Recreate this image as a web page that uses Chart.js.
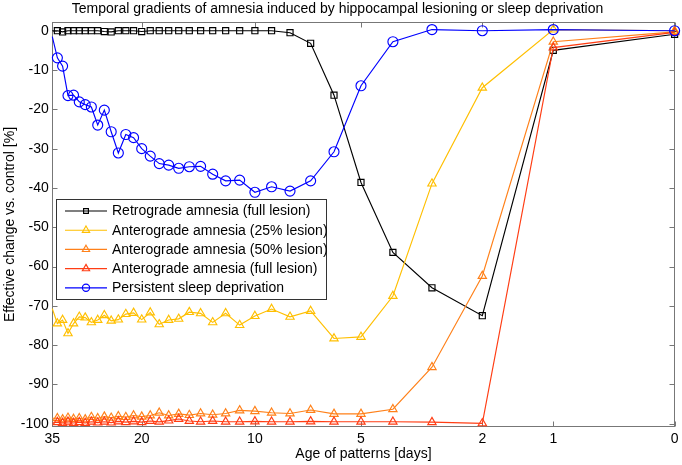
<!DOCTYPE html>
<html>
<head>
<meta charset="utf-8">
<script src="https://cdn.jsdelivr.net/npm/chart.js@4.4.1/dist/chart.umd.min.js"></script>
<style>
  html, body { margin: 0; padding: 0; background: #fff; }
  #wrap { width: 682px; height: 465px; position: relative; }
</style>
</head>
<body>
<div id="wrap"><canvas id="myChart"></canvas></div>
<script>
// age of the patterns in days, oldest first (the left edge point has no marker)
const days = [34, 33, 32, 31, 30, 29, 28, 27, 26, 25, 24, 23, 22, 21, 20, 19, 18,
              17, 16, 15, 14, 13, 12, 11, 10, 9, 8, 7, 6, 5, 4, 3, 2, 1, 0];

const retrograde = [0, 0, -0.3, 0, 0, 0, 0, 0, 0, -0.2, -0.3, 0, 0, 0, -0.2, 0, 0,
                    0, 0, 0, 0, 0, 0, 0, 0, 0, -0.5, -3.2, -16.4, -38.6, -56.4, -65.4, -72.5, -5.0, -0.9];
const antero25 = [-70.7, -74.5, -73.6, -77.0, -74.5, -72.8, -73.0, -74.2, -73.6, -72.4, -73.8, -73.5, -72.1, -71.8, -73.5, -71.7, -74.7,
                  -73.6, -73.3, -71.6, -71.9, -74.2, -71.9, -74.9, -72.6, -70.8, -72.8, -71.3, -78.3, -77.9, -67.5, -38.9, -14.5, 0.3, 0];
const antero50 = [-98.6, -98.6, -98.9, -98.5, -98.8, -98.6, -98.9, -98.3, -98.6, -98.2, -98.5, -98.1, -98.3, -97.9, -98.2, -97.9, -97.2,
                  -97.9, -97.5, -97.8, -97.4, -97.7, -97.4, -96.6, -96.8, -97.2, -97.4, -96.5, -97.5, -97.5, -96.3, -85.6, -62.4, -2.8, -0.3];
const anteroFull = [-99.8, -99.6, -99.8, -99.5, -99.8, -99.6, -99.8, -99.5, -99.7, -99.5, -99.7, -99.4, -99.6, -99.4, -99.6, -99.3, -99.5,
                    -99.2, -98.8, -99.3, -99.5, -99.3, -99.5, -99.5, -99.4, -99.5, -99.5, -99.4, -99.5, -99.5, -99.5, -99.6, -99.9, -4.3, -0.4];
const sleepDep = [-1.5, -6.9, -9.0, -16.5, -16.4, -18.1, -18.8, -19.4, -24.0, -20.2, -25.7, -31.1, -26.4, -27.2, -30.0, -31.9, -33.8,
                  -34.2, -35.0, -34.6, -34.5, -36.5, -38.2, -38.0, -41.1, -39.7, -40.8, -38.2, -30.8, -14.0, -2.8, 0.3, 0, 0.3, 0];

const seriesNames = ['Retrograde amnesia (full lesion)', 'Anterograde amnesia (25% lesion)',
                     'Anterograde amnesia (50% lesion)', 'Anterograde amnesia (full lesion)',
                     'Persistent sleep deprivation'];

// x axis is log(age + 1); the left edge carries the label 35
const xTickDays = [34, 20, 10, 5, 2, 1, 0];
const xTickLabels = ['35', '20', '10', '5', '2', '1', '0'];
const yTicks = [0, -10, -20, -30, -40, -50, -60, -70, -80, -90, -100];

const FONT = '"Liberation Sans", Arial, Helvetica, sans-serif';
Chart.defaults.font.family = FONT;
Chart.defaults.color = '#000';

const lx = d => Math.log(d + 1);
const toPoints = vals => days.map((d, i) => ({ x: lx(d), y: vals[i] }));

function series(label, vals, color, style, radius, order) {
    return {
        label: label,
        data: toPoints(vals),
        borderColor: color,
        backgroundColor: color,
        borderWidth: 1.15,
        pointStyle: style,
        pointRadius: c => (c.dataIndex === 0 ? 0 : radius),
        pointBorderWidth: 1.15,
        pointBorderColor: color,
        pointBackgroundColor: 'rgba(0,0,0,0)',
        tension: 0,
        clip: false,
        order: order
    };
}

const frame = {
    id: 'frame',
    beforeDatasetsDraw(chart) {
        const { ctx, chartArea: a, scales } = chart;
        const L = Math.round(a.left) + 0.5, R = Math.round(a.right) - 0.5;
        const T = Math.round(a.top) + 0.5, B = Math.round(a.bottom) - 0.5;
        ctx.save();
        ctx.strokeStyle = '#777';
        ctx.lineWidth = 1;
        ctx.strokeRect(L, T, R - L, B - T);
        ctx.beginPath();
        scales.x.ticks.forEach(t => {
            const px = Math.round(scales.x.getPixelForValue(t.value)) + 0.5;
            ctx.moveTo(px, B); ctx.lineTo(px, B - 5);
            ctx.moveTo(px, T); ctx.lineTo(px, T + 5);
        });
        scales.y.ticks.forEach(t => {
            const py = Math.round(scales.y.getPixelForValue(t.value)) + 0.5;
            ctx.moveTo(L, py); ctx.lineTo(L + 5, py);
            ctx.moveTo(R, py); ctx.lineTo(R - 5, py);
        });
        ctx.stroke();
        ctx.restore();
    }
};

const boxLegend = {
    id: 'boxLegend',
    afterDatasetsDraw(chart) {
        const ctx = chart.ctx;
        const left = 56.5, top = 199.5, right = 326.5, bottom = 299.5;
        ctx.save();
        ctx.fillStyle = '#fff';
        ctx.fillRect(left, top, right - left, bottom - top);
        ctx.strokeStyle = '#333';
        ctx.lineWidth = 1;
        ctx.strokeRect(left, top, right - left, bottom - top);
        ctx.font = '14px ' + FONT;
        ctx.textBaseline = 'middle';
        ctx.textAlign = 'left';
        chart.data.datasets.forEach((ds, i) => {
            const y = 211 + i * 19.2;
            ctx.strokeStyle = ds.borderColor;
            ctx.lineWidth = 1.15;
            ctx.beginPath();
            ctx.moveTo(65, y);
            ctx.lineTo(107, y);
            ctx.stroke();
            ctx.fillStyle = 'rgba(0,0,0,0)';
            const r = ds.pointStyle === 'rect' ? 3.4 : (ds.pointStyle === 'circle' ? 3.6 : 4.2);
            Chart.helpers.drawPoint(ctx, { pointStyle: ds.pointStyle, radius: r, borderWidth: 1.15 }, 86, y);
            ctx.fillStyle = '#000';
            ctx.fillText(ds.label, 112, y + 0.5);
        });
        ctx.restore();
    }
};

const canvas = document.getElementById('myChart');
new Chart(canvas.getContext('2d'), {
    type: 'line',
    data: {
        datasets: [
            series(seriesNames[0], retrograde, '#000000', 'rect', 4.3, 4),
            series(seriesNames[1], antero25, '#ffbf00', 'triangle', 4.8, 3),
            series(seriesNames[2], antero50, '#ff8019', 'triangle', 4.8, 2),
            series(seriesNames[3], anteroFull, '#ff3d14', 'triangle', 4.8, 1),
            series(seriesNames[4], sleepDep, '#0000ff', 'circle', 5, 0)
        ]
    },
    options: {
        responsive: true,
        maintainAspectRatio: false,
        animation: false,
        events: [],
        layout: { padding: { left: 0, right: 7, top: 0, bottom: 2 } },
        plugins: {
            legend: { display: false },
            tooltip: { enabled: false },
            title: {
                display: true,
                text: 'Temporal gradients of amnesia induced by hippocampal lesioning or sleep deprivation',
                font: { size: 14, weight: 'normal', lineHeight: 1 },
                color: '#000',
                padding: { top: 2.6, bottom: 5.1 }
            }
        },
        scales: {
            x: {
                type: 'linear',
                reverse: true,
                min: 0,
                max: lx(34),
                grid: { display: false, drawTicks: false },
                border: { display: false },
                afterFit: s => { s.height = 35.7; },
                afterBuildTicks: s => { s.ticks = xTickDays.map(d => ({ value: lx(d) })); },
                ticks: {
                    autoSkip: false,
                    maxRotation: 0,
                    padding: 3.5,
                    font: { size: 14 },
                    color: '#000',
                    callback: v => {
                        const i = xTickDays.findIndex(d => Math.abs(lx(d) - v) < 1e-9);
                        return i < 0 ? '' : xTickLabels[i];
                    }
                },
                title: {
                    display: true,
                    text: 'Age of patterns [days]',
                    font: { size: 14 },
                    color: '#000',
                    padding: { top: 0, bottom: 0 }
                }
            },
            y: {
                type: 'linear',
                min: -100.9,
                max: 2.3,
                grid: { display: false, drawTicks: false },
                border: { display: false },
                afterFit: s => { s.width = 52.3; },
                afterBuildTicks: s => { s.ticks = yTicks.map(v => ({ value: v })); },
                ticks: {
                    autoSkip: false,
                    padding: 3.5,
                    font: { size: 14 },
                    color: '#000',
                    callback: v => String(v)
                },
                title: {
                    display: true,
                    text: 'Effective change vs. control [%]',
                    font: { size: 14 },
                    color: '#000',
                    padding: { top: 1.6, bottom: 0 }
                }
            }
        }
    },
    plugins: [frame, boxLegend]
});
</script>
</body>
</html>
